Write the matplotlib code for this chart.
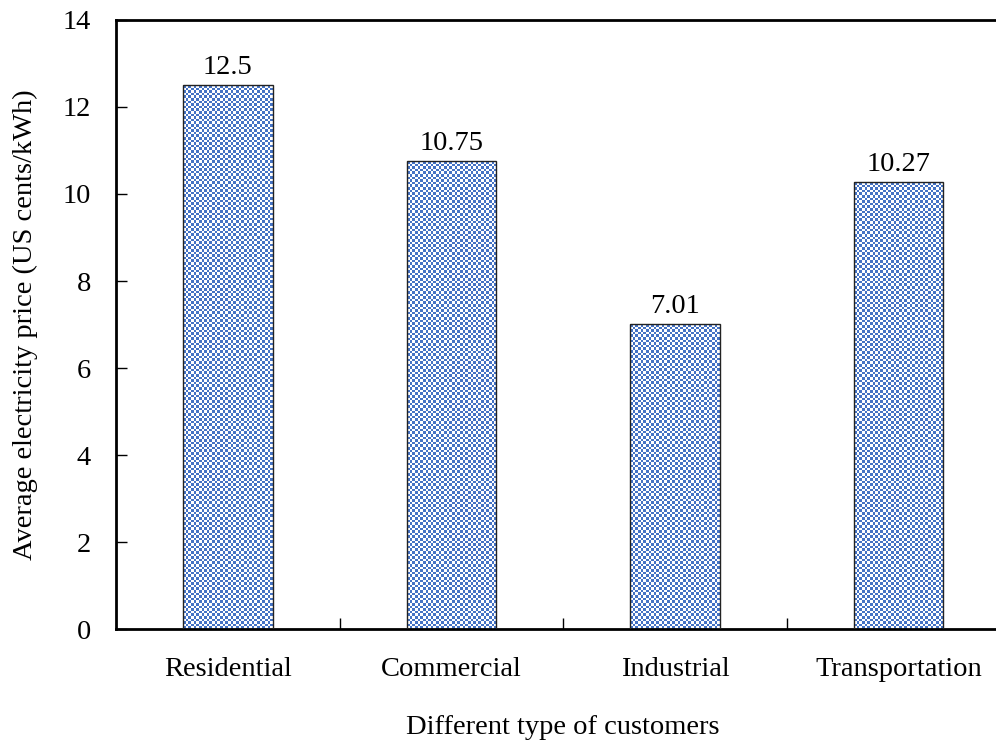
import numpy as np
import matplotlib
matplotlib.use('Agg')
import matplotlib.pyplot as plt

categories = ['Residential', 'Commercial', 'Industrial', 'Transportation']
prices = [12.5, 10.75, 7.01, 10.27]
price_labels = ['12.5', '10.75', '7.01', '10.27']

plt.rcParams['font.family'] = ['Liberation Serif', 'DejaVu Serif']

fig = plt.figure(figsize=(9.96, 7.43), dpi=100)
ax = fig.add_axes([0.1165, 0.1534, 0.898, 0.8197])

x = np.arange(len(categories))
bars = ax.bar(x, prices, width=0.40, facecolor='none', edgecolor='#222222',
              linewidth=1.0, zorder=3)

# checkerboard fill, clipped to each bar
cell = 2.6
px_per_unit = ax.get_position().width * fig.get_figwidth() * fig.dpi / 4.0
px_per_y = ax.get_position().height * fig.get_figheight() * fig.dpi / 14.0
blue = np.array([68, 114, 196]) / 255.0
white = np.array([1.0, 1.0, 1.0])
for b in bars:
    w = b.get_width()
    h = b.get_height()
    nx = int(round(w * px_per_unit / cell))
    ny = int(round(h * px_per_y / cell))
    ii, jj = np.indices((ny, nx))
    mask = (ii + jj) % 2 == 0
    img = np.where(mask[..., None], blue, white)
    im = ax.imshow(img, extent=(b.get_x(), b.get_x() + w, 0, h),
                   interpolation='nearest', aspect='auto', zorder=2)
    im.set_clip_path(b)

for b, lab in zip(bars, price_labels):
    ax.text(b.get_x() + b.get_width() / 2, b.get_height() + 0.12, lab,
            ha='center', va='bottom', fontsize=20.5)

ax.set_xlim(-0.5, 3.5)
ax.set_ylim(0, 14)
ax.set_yticks(np.arange(0, 15, 2))
ax.set_xticks(x)
ax.set_xticklabels(categories)
ax.set_xticks([0.5, 1.5, 2.5], minor=True)
ax.tick_params(axis='x', which='major', length=0, pad=20, labelsize=20.5)
ax.tick_params(axis='x', which='minor', direction='in', length=8, width=1)
ax.tick_params(axis='y', direction='in', length=8, width=1, pad=18, labelsize=20.5)

for s in ['left', 'bottom', 'top']:
    ax.spines[s].set_linewidth(2)
ax.spines['right'].set_visible(False)

ax.set_ylabel('Average electricity price (US cents/kWh)', fontsize=20.5, labelpad=18)
ax.set_xlabel('Different type of customers', fontsize=20.5, labelpad=24)

fig.savefig('out.png', dpi=100)
